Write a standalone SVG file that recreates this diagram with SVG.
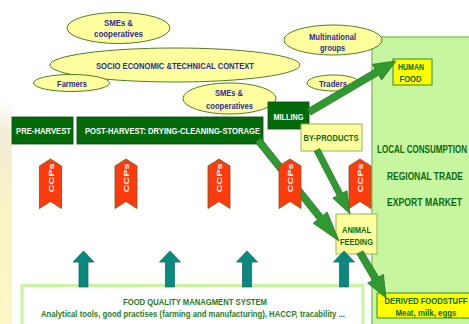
<svg xmlns="http://www.w3.org/2000/svg" width="469" height="324" viewBox="0 0 469 324">
<defs>
<linearGradient id="strip" x1="0" y1="0" x2="0" y2="1">
<stop offset="0" stop-color="#ffffff"/>
<stop offset="0.15" stop-color="#f1ecd6"/>
<stop offset="0.5" stop-color="#fbf3c2"/>
<stop offset="1" stop-color="#fdf6c6"/>
</linearGradient>
<style>
.ell{fill:#ffff9e;stroke:#4d7f26;stroke-width:1}
.et{font-family:"Liberation Sans Narrow","Liberation Sans",Arial,sans-serif;font-weight:bold;font-size:9px;fill:#2b2b9c;text-anchor:middle}
.dk{fill:#046a0a;stroke:#024d06;stroke-width:0.8}
.wt{font-family:"Liberation Sans Narrow","Liberation Sans",Arial,sans-serif;font-weight:bold;font-size:9.5px;fill:#ffffff;text-anchor:middle}
.gt{font-family:"Liberation Sans Narrow","Liberation Sans",Arial,sans-serif;font-weight:bold;font-size:9.5px;fill:#0b6a0b;text-anchor:middle}
.gs{font-family:"Liberation Sans Narrow","Liberation Sans",Arial,sans-serif;font-weight:bold;font-size:10px;fill:#0b6a0b}
.pale{fill:#ffff9e;stroke:#8cba55;stroke-width:1}
.yel{fill:#ffff00;stroke:#2e8b2e;stroke-width:1}
.ccp{fill:#ff3a0c;stroke:#6b5a1e;stroke-width:0.8}
.ct{font-family:"Liberation Sans","Arial",sans-serif;font-weight:bold;font-size:8px;fill:#ffffff;text-anchor:middle}
.ga{fill:#2f9a2f;stroke:#1f6a1f;stroke-width:0.7}
.ta{fill:#0a8a7e;stroke:#05655c;stroke-width:0.7}
</style>
</defs>
<rect x="0" y="0" width="469" height="324" fill="#ffffff"/>
<rect x="0" y="100" width="12" height="224" fill="url(#strip)"/>

<g id="market">
<path d="M469,37H372V324H469Z" fill="#c8f5a0"/>
<path d="M469,37H372V324" fill="none" stroke="#8cc46c" stroke-width="1.5"/>
<text class="gs" transform="translate(377,152.5) scale(0.8,1)" textLength="112.5" lengthAdjust="spacingAndGlyphs">LOCAL CONSUMPTION</text>
<text class="gs" transform="translate(387,179.5) scale(0.8,1)" textLength="95" lengthAdjust="spacingAndGlyphs">REGIONAL TRADE</text>
<text class="gs" transform="translate(387,205.5) scale(0.8,1)" textLength="93.75" lengthAdjust="spacingAndGlyphs">EXPORT MARKET</text>
</g>

<g id="smes-top">
<ellipse class="ell" cx="118.5" cy="28" rx="51.5" ry="15.5"/>
<text class="et" x="118.5" y="25.5" textLength="29" lengthAdjust="spacingAndGlyphs">SMEs &amp;</text>
<text class="et" x="118.5" y="37" textLength="49" lengthAdjust="spacingAndGlyphs">cooperatives</text>
</g>
<g id="context">
<ellipse class="ell" cx="175" cy="65" rx="125" ry="17"/>
<text class="et" x="175" y="68.5" textLength="158" lengthAdjust="spacingAndGlyphs">SOCIO ECONOMIC &amp;TECHNICAL CONTEXT</text>
</g>
<g id="farmers">
<ellipse class="ell" cx="71.5" cy="83" rx="38" ry="8.5"/>
<text class="et" x="72" y="86.5" textLength="30" lengthAdjust="spacingAndGlyphs">Farmers</text>
</g>
<g id="smes-mid">
<ellipse class="ell" cx="229.5" cy="98.5" rx="46.5" ry="15.5"/>
<text class="et" x="229" y="95.5" textLength="28" lengthAdjust="spacingAndGlyphs">SMEs &amp;</text>
<text class="et" x="229.5" y="108.5" textLength="47" lengthAdjust="spacingAndGlyphs">cooperatives</text>
</g>
<g id="multinational">
<ellipse class="ell" cx="333" cy="40" rx="49" ry="15"/>
<text class="et" x="332.5" y="39.5" textLength="47" lengthAdjust="spacingAndGlyphs">Multinational</text>
<text class="et" x="332.5" y="50.5" textLength="25" lengthAdjust="spacingAndGlyphs">groups</text>
</g>
<g id="traders">
<ellipse class="ell" cx="333.5" cy="83" rx="26.5" ry="8"/>
<text class="et" x="333" y="86.5" textLength="28" lengthAdjust="spacingAndGlyphs">Traders</text>
</g>

<g id="human-food">
<rect class="yel" x="393" y="59" width="39" height="26"/>
<text class="gt" x="411" y="69.5" textLength="26" lengthAdjust="spacingAndGlyphs">HUMAN</text>
<text class="gt" x="410.5" y="81.5" textLength="22" lengthAdjust="spacingAndGlyphs">FOOD</text>
</g>
<g id="pre-harvest">
<rect class="dk" x="12" y="117" width="61" height="27"/>
<text class="wt" x="43.5" y="133.5" textLength="55" lengthAdjust="spacingAndGlyphs">PRE-HARVEST</text>
</g>
<g id="post-harvest">
<rect class="dk" x="77" y="117" width="186" height="27"/>
<text class="wt" x="172.5" y="133.5" textLength="175" lengthAdjust="spacingAndGlyphs">POST-HARVEST: DRYING-CLEANING-STORAGE</text>
</g>
<g id="milling">
<rect class="dk" x="268" y="102" width="41" height="27"/>
<text class="wt" x="288.5" y="119.5" textLength="30" lengthAdjust="spacingAndGlyphs">MILLING</text>
</g>
<g id="by-products">
<rect class="pale" x="301" y="124" width="61" height="27"/>
<text class="gt" x="331" y="140.5" textLength="55" lengthAdjust="spacingAndGlyphs">BY-PRODUCTS</text>
</g>
<g id="animal-feeding">
<rect class="pale" x="336" y="214" width="41" height="40"/>
<text class="gt" x="356.5" y="232.5" textLength="29" lengthAdjust="spacingAndGlyphs">ANIMAL</text>
<text class="gt" x="356.5" y="244.5" textLength="33" lengthAdjust="spacingAndGlyphs">FEEDING</text>
</g>
<g id="derived">
<path class="yel" d="M469,293H377V318H469"/>
<text class="gt" transform="translate(426,303.5) scale(0.8,1)" textLength="103.75" lengthAdjust="spacingAndGlyphs">DERIVED FOODSTUFF</text>
<text class="gt" x="426" y="315.5" textLength="61" lengthAdjust="spacingAndGlyphs">Meat, milk, eggs</text>
</g>
<g id="fqms">
<rect x="22" y="285.5" width="341" height="45" fill="#ffffff" stroke="#c8f5a0" stroke-width="3"/>
<text class="gt" x="195" y="304.5" style="fill:#1e7d1e" textLength="144" lengthAdjust="spacingAndGlyphs">FOOD QUALITY MANAGMENT SYSTEM</text>
<text class="gt" x="193" y="316.5" style="font-size:9px;fill:#1e7d1e" textLength="304" lengthAdjust="spacingAndGlyphs">Analytical tools, good practises (farming and manufacturing), HACCP, tracability ...</text>
</g>

<g id="connectors">
<polygon class="ga" points="310.8,115 378.8,75.1 381.6,79.9 396,61 372.5,64.3 375.2,69.1 307.2,109"/>
<polygon class="ga" points="255.3,142.2 317.5,219.8 313.2,223.2 339,241 327.2,212 322.9,215.4 260.7,137.8"/>
<polygon class="ga" points="314.3,151.4 337.2,195.8 332.8,198.1 350,214 347,190.7 342.6,193 319.7,148.6"/>
<polygon class="ga" points="356.9,254 372.4,280.4 367.6,283 386,298 383.4,274.4 378.6,277 363.1,251"/>
<path class="ta" d="M79,287V262H73L83.5,251L94,262H88V287Z"/>
<path class="ta" d="M165.5,287V262H159.5L170,251L180.5,262H174.5V287Z"/>
<path class="ta" d="M242.5,287V262H236.5L247,251L257.5,262H251.5V287Z"/>
<path class="ta" d="M339.5,287V262H333.5L344,251L354.5,262H348.5V287Z"/>
</g>

<g id="ccp1"><path class="ccp" d="M50.5,159L61.5,166V208.5L50.5,201.5L39.5,208.5V166Z"/><text class="ct" transform="translate(50.5,178) rotate(-90)" y="3" textLength="29" lengthAdjust="spacingAndGlyphs">CCPs</text></g>
<g id="ccp2"><path class="ccp" d="M126,159L137,166V208.5L126,201.5L115,208.5V166Z"/><text class="ct" transform="translate(126,178) rotate(-90)" y="3" textLength="29" lengthAdjust="spacingAndGlyphs">CCPs</text></g>
<g id="ccp3"><path class="ccp" d="M219,159L230,166V208.5L219,201.5L208,208.5V166Z"/><text class="ct" transform="translate(219,178) rotate(-90)" y="3" textLength="29" lengthAdjust="spacingAndGlyphs">CCPs</text></g>
<g id="ccp4"><path class="ccp" d="M290,159L301,166V208.5L290,201.5L279,208.5V166Z"/><text class="ct" transform="translate(290,178) rotate(-90)" y="3" textLength="29" lengthAdjust="spacingAndGlyphs">CCPs</text></g>
<g id="ccp5"><path class="ccp" d="M360,159L371,166V208.5L360,201.5L349,208.5V166Z"/><text class="ct" transform="translate(360,178) rotate(-90)" y="3" textLength="29" lengthAdjust="spacingAndGlyphs">CCPs</text></g>
</svg>
